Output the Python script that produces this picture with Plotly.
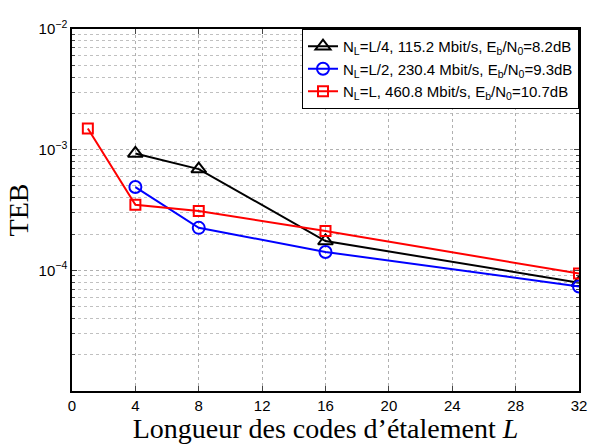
import plotly.graph_objects as go

# Bit error rate versus spreading code length
L_quarter = [4, 8, 16, 32]
teb_quarter = [9.3e-4, 6.9e-4, 1.75e-4, 7.9e-5]

L_half = [4, 8, 16, 32]
teb_half = [4.9e-4, 2.25e-4, 1.42e-4, 7.35e-5]

L_full = [1, 4, 8, 16, 32]
teb_full = [1.5e-3, 3.5e-4, 3.1e-4, 2.12e-4, 9.4e-5]

names = [
    "N<sub>L</sub>=L/4, 115.2 Mbit/s, E<sub>b</sub>/N<sub>0</sub>=8.2dB",
    "N<sub>L</sub>=L/2, 230.4 Mbit/s, E<sub>b</sub>/N<sub>0</sub>=9.3dB",
    "N<sub>L</sub>=L, 460.8 Mbit/s, E<sub>b</sub>/N<sub>0</sub>=10.7dB",
]

x_ticks = [0, 4, 8, 12, 16, 20, 24, 28, 32]
y_ticks = [1e-4, 1e-3, 1e-2]
y_ticktext = ["10<sup>−4</sup>", "10<sup>−3</sup>", "10<sup>−2</sup>"]
y_minor = [m * 10.0 ** e for e in (-5, -4, -3) for m in range(2, 10)]

fig = go.Figure()
fig.add_trace(go.Scatter(
    x=L_quarter, y=teb_quarter, name=names[0], mode="lines+markers",
    line=dict(color="black", width=2),
    marker=dict(symbol="triangle-up-open", size=13, line=dict(width=2, color="black")),
))
fig.add_trace(go.Scatter(
    x=L_half, y=teb_half, name=names[1], mode="lines+markers",
    line=dict(color="blue", width=2),
    marker=dict(symbol="circle-open", size=12, line=dict(width=2, color="blue")),
))
fig.add_trace(go.Scatter(
    x=L_full, y=teb_full, name=names[2], mode="lines+markers",
    line=dict(color="red", width=2),
    marker=dict(symbol="square-open", size=10, line=dict(width=2, color="red")),
))

grid = dict(showgrid=True, gridcolor="#b0b0b0", griddash="dot", gridwidth=1)
serif = "Liberation Serif, Times New Roman, serif"

fig.update_layout(
    width=598, height=444,
    margin=dict(l=72, r=11, t=29, b=51),
    paper_bgcolor="white", plot_bgcolor="white",
    font=dict(family="Liberation Sans, Arial", size=15, color="black"),
    showlegend=True,
    legend=dict(
        x=1, y=1, xanchor="right", yanchor="top",
        bgcolor="white", bordercolor="black", borderwidth=1,
        font=dict(family="Liberation Sans, Arial", size=15),
        tracegroupgap=0, itemwidth=30,
    ),
    xaxis=dict(
        range=[0, 32], tickvals=x_ticks, ticks="inside", ticklen=5,
        showline=True, linecolor="black", linewidth=1.5, mirror="allticks",
        zeroline=False,
        title=dict(text="Longueur des codes d’étalement <i>L</i>",
                   font=dict(family=serif, size=28),
                   standoff=0),
        **grid,
    ),
    yaxis=dict(
        type="log", range=[-5, -2], tickvals=y_ticks, ticktext=y_ticktext,
        ticks="inside", ticklen=5,
        showline=True, linecolor="black", linewidth=1.5, mirror="allticks",
        zeroline=False,
        minor=dict(tickvals=y_minor, ticks="inside", ticklen=3, showgrid=True,
                   gridcolor="#c0c0c0", griddash="dot", gridwidth=1),
        title=dict(text="TEB", font=dict(family=serif, size=28), standoff=2),
        **grid,
    ),
)

fig.write_html("out.html")
